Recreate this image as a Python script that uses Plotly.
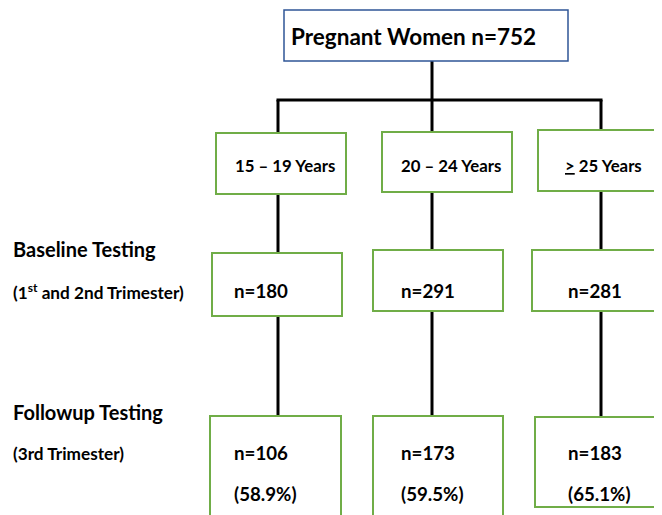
import plotly.graph_objects as go

# ---- data ----
total_label = "Pregnant Women"
total_n = 752
age_groups = ["15 – 19 Years", "20 – 24 Years", "<u>></u> 25 Years"]
baseline_n = [180, 291, 281]
followup_n = [106, 173, 183]
followup_pct = ["58.9%", "59.5%", "65.1%"]
stage_titles = ["Baseline Testing", "Followup Testing"]
stage_subtitles = ["(1<sup>st</sup> and 2nd Trimester)", "(3rd Trimester)"]

# ---- layout geometry (pixel space) ----
W, H = 662, 515
OFF = 8  # browser default body margin
col_x = [278, 432, 601]
age_boxes = [(216, 346, 133, 194), (382, 512, 132, 192), (538, 680, 130, 191)]
base_boxes = [(212, 342, 253, 316), (373, 503, 250, 311), (532, 660, 250, 311)]
foll_boxes = [(210, 341, 416, 520), (373, 503, 416, 520), (535, 660, 417, 507)]
text_x = [233, 399, 563]
num_x = [232, 399, 566]

GREEN = "#70AD47"
BLUE = "#2F5597"
FONT = "Lato"

fig = go.Figure()
shapes = []
annotations = []

def rect(b, color, width):
    x0, x1, y0, y1 = b
    shapes.append(dict(type="rect", xref="x", yref="y", x0=x0, x1=x1, y0=y0, y1=y1,
                       line=dict(color=color, width=width), fillcolor="white", layer="above"))

def line(x0, y0, x1, y1):
    shapes.append(dict(type="line", xref="x", yref="y", x0=x0, x1=x1, y0=y0, y1=y1,
                       line=dict(color="black", width=3), layer="above"))

def text(x, y, s, size):
    annotations.append(dict(x=x, y=y, xref="x", yref="y", text="<b>" + s + "</b>",
                            showarrow=False, xanchor="left", yanchor="middle",
                            font=dict(family=FONT, size=size, color="black")))

# connectors
line(432, 61, 432, 100)
line(col_x[0] - 1.5, 100, col_x[2] + 1.5, 100)
for i, cx in enumerate(col_x):
    line(cx, 100, cx, age_boxes[i][2])
    line(cx, age_boxes[i][3], cx, base_boxes[i][2])
    line(cx, base_boxes[i][3], cx, foll_boxes[i][2])

# boxes
rect((284, 568, 10, 61), BLUE, 1.5)
for i in range(3):
    rect(age_boxes[i], GREEN, 2)
    rect(base_boxes[i], GREEN, 2)
    rect(foll_boxes[i], GREEN, 2)

# texts
text(289, 36, f"{total_label} n={total_n}", 22.5)
for i in range(3):
    text(text_x[i], 165, age_groups[i], 16.8)
    text(num_x[i], 291, f"n={baseline_n[i]}", 18.7)
    text(num_x[i], 453, f"n={followup_n[i]}", 18.7)
    text(num_x[i], 494, f"({followup_pct[i]})", 18.7)

text(11, 249, stage_titles[0], 20)
text(11, 291, stage_subtitles[0], 17.2)
text(11, 412, stage_titles[1], 20)
text(11, 453, stage_subtitles[1], 17.2)

fig.update_layout(
    width=W - OFF, height=H - OFF,
    margin=dict(l=0, r=0, t=0, b=0),
    paper_bgcolor="white", plot_bgcolor="white",
    xaxis=dict(range=[OFF, W], visible=False, fixedrange=True),
    yaxis=dict(range=[H, OFF], visible=False, fixedrange=True),
    shapes=shapes, annotations=annotations, showlegend=False,
)

fig.write_html("out.html")
